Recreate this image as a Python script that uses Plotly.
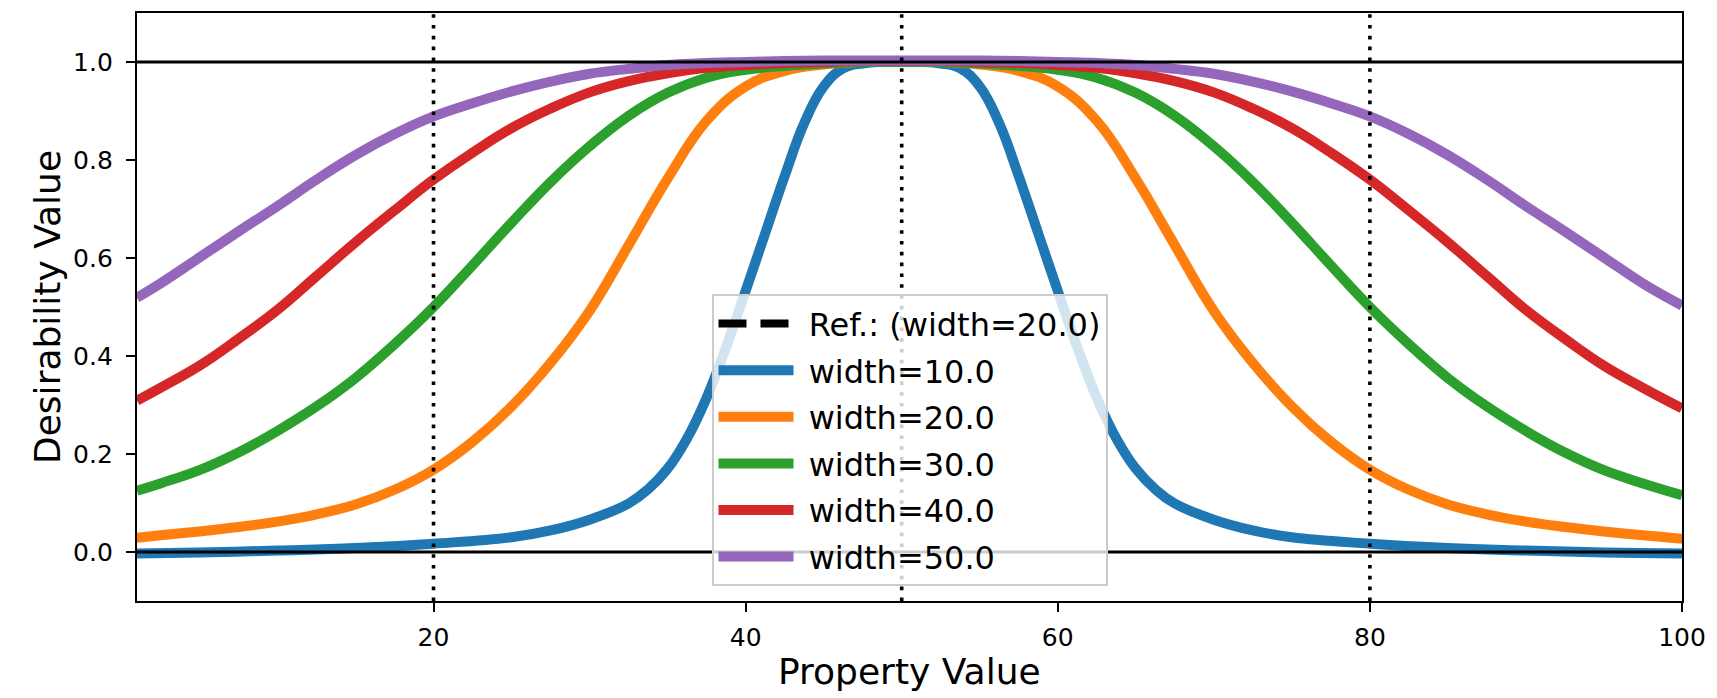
import plotly.graph_objects as go

# ---- data ----
x_common = [1, 2.5, 5, 7.5, 10, 12.5, 15, 17.5, 20, 22.5, 25, 27.5, 30, 32.5, 35, 37.5, 40,
            42.5, 45, 47.5, 50, 52.5, 55, 57.5, 60, 62.5, 65, 67.5, 70, 72.5, 75, 77.5, 80,
            82.5, 85, 87.5, 90, 92.5, 95, 97.5, 100]

width_50 = [0.519, 0.548, 0.601, 0.654, 0.706, 0.760, 0.810, 0.853, 0.889, 0.916, 0.940,
            0.960, 0.976, 0.986, 0.994, 0.998, 1.000, 1.002, 1.003, 1.003, 1.003,
            1.003, 1.003, 1.002, 1.000, 0.998, 0.994, 0.986, 0.976, 0.960, 0.940,
            0.916, 0.889, 0.853, 0.810, 0.760, 0.706, 0.654, 0.601, 0.548, 0.503]

width_40 = [0.309, 0.335, 0.380, 0.435, 0.494, 0.563, 0.632, 0.697, 0.760, 0.815, 0.865,
            0.905, 0.938, 0.961, 0.977, 0.988, 0.994, 0.998, 1.000, 1.002, 1.002,
            1.002, 1.000, 0.998, 0.994, 0.988, 0.977, 0.961, 0.938, 0.905, 0.865,
            0.815, 0.760, 0.697, 0.632, 0.563, 0.494, 0.435, 0.380, 0.335, 0.293]

width_30 = [0.125, 0.140, 0.167, 0.203, 0.247, 0.297, 0.355, 0.424, 0.500, 0.585, 0.672,
            0.755, 0.828, 0.890, 0.937, 0.968, 0.984, 0.992, 0.997, 1.000, 1.000,
            1.000, 0.997, 0.992, 0.984, 0.968, 0.937, 0.890, 0.828, 0.755, 0.672,
            0.585, 0.500, 0.424, 0.355, 0.297, 0.247, 0.203, 0.167, 0.140, 0.116]

width_20 = [0.029, 0.034, 0.042, 0.051, 0.062, 0.077, 0.097, 0.127, 0.168, 0.225, 0.297,
            0.386, 0.492, 0.626, 0.762, 0.880, 0.950, 0.982, 0.995, 1.000, 1.000,
            1.000, 0.995, 0.982, 0.950, 0.880, 0.762, 0.626, 0.492, 0.386, 0.297,
            0.225, 0.168, 0.127, 0.097, 0.077, 0.062, 0.051, 0.042, 0.034, 0.027]

x_width_10 = [1, 5, 10, 15, 20, 25, 27.5, 30, 32.5, 33.75, 35, 36.25, 37.5, 38.75, 40,
              41.25, 42.5, 43.75, 45, 46.25, 47.5, 48.75, 50, 51.25, 52.5, 53.75, 55,
              56.25, 57.5, 58.75, 60, 61.25, 62.5, 63.75, 65, 66.25, 67.5, 70, 72.5,
              75, 80, 85, 90, 95, 100]
width_10 = [-0.003, -0.001, 0.003, 0.008, 0.017, 0.030, 0.044, 0.066, 0.099, 0.128, 0.170,
            0.232, 0.315, 0.418, 0.533, 0.650, 0.767, 0.875, 0.950, 0.987, 0.997, 1.000,
            1.000, 1.000, 0.997, 0.987, 0.950, 0.875, 0.767, 0.650, 0.533, 0.418, 0.315,
            0.232, 0.170, 0.128, 0.099, 0.066, 0.044, 0.030, 0.017, 0.008, 0.003,
            -0.001, -0.003]

ref_values = width_20  # reference curve (width=20.0) coincides with the orange one

series_names = ["width=10.0", "width=20.0", "width=30.0", "width=40.0", "width=50.0"]
series_x = [x_width_10, x_common, x_common, x_common, x_common]
series_y = [width_10, width_20, width_30, width_40, width_50]
colors = ["#1f77b4", "#ff7f0e", "#2ca02c", "#d62728", "#9467bd"]

hlines = [0.0, 1.0]
vlines = [20, 50, 80]
x_ticks = [20, 40, 60, 80, 100]
y_ticks = [0.0, 0.2, 0.4, 0.6, 0.8, 1.0]

FONT = "DejaVu Sans"
GAP = "\u00a0"  # spacing between legend handle and text

fig = go.Figure()
fig.add_trace(go.Scatter(
    x=x_common, y=ref_values, mode="lines", name=GAP + "Ref.: (width=20.0)",
    line=dict(color="black", width=8, dash="28px,14px", shape="spline", smoothing=1.2),
    legendgroup="ref"))
for name, xs, ys, c in zip(series_names, series_x, series_y, colors):
    fig.add_trace(go.Scatter(
        x=xs, y=ys, mode="lines", name=GAP + name,
        line=dict(color=c, width=10, shape="spline", smoothing=1.2),
        legendgroup=name))

for yv in hlines:
    fig.add_shape(type="line", xref="paper", x0=0, x1=1, yref="y", y0=yv, y1=yv,
                  line=dict(color="black", width=3.2), layer="above")
for xv in vlines:
    fig.add_shape(type="line", xref="x", x0=xv, x1=xv, yref="paper", y0=0, y1=1,
                  line=dict(color="black", width=3.6, dash="3.6px,7.2px"), layer="above")

axis_common = dict(showline=True, mirror=True, linecolor="black", linewidth=2.3,
                   ticks="outside", ticklen=9, tickwidth=2.3, tickcolor="black",
                   showgrid=False, zeroline=False, ticklabeloverflow="allow",
                   tickfont=dict(family=FONT, size=25, color="black"))

fig.update_xaxes(range=[1, 100], tickvals=x_ticks, ticklabelstandoff=4, **axis_common)
fig.update_yaxes(range=[-0.1, 1.1], tickvals=y_ticks, tickformat=".1f",
                 ticklabelstandoff=8, **axis_common)

fig.add_annotation(text="Property Value", xref="paper", yref="paper", x=0.5, y=0,
                   xanchor="center", yanchor="middle", yshift=-70, showarrow=False,
                   font=dict(family=FONT, size=36, color="black"))
fig.add_annotation(text="Desirability Value", xref="paper", yref="paper", x=0, y=0.5,
                   xanchor="center", yanchor="middle", xshift=-90, textangle=-90,
                   showarrow=False, font=dict(family=FONT, size=36, color="black"))

fig.update_layout(
    width=1717, height=698,
    margin=dict(l=137, r=22, t=11, b=97),
    paper_bgcolor="white", plot_bgcolor="white",
    font=dict(family=FONT, color="black"),
    showlegend=True,
    legend=dict(x=0.5, xanchor="center", y=0.025, yanchor="bottom",
                bgcolor="rgba(255,255,255,0.8)", bordercolor="#cccccc", borderwidth=2,
                font=dict(family=FONT, size=32, color="black"),
                itemwidth=75, tracegroupgap=2),
)

# remove the default page margin so the figure fills the window exactly
fig.write_html("out.html",
               config={"displayModeBar": False},
               post_script="document.body.style.margin='0';"
                           "document.body.style.overflow='hidden';")
